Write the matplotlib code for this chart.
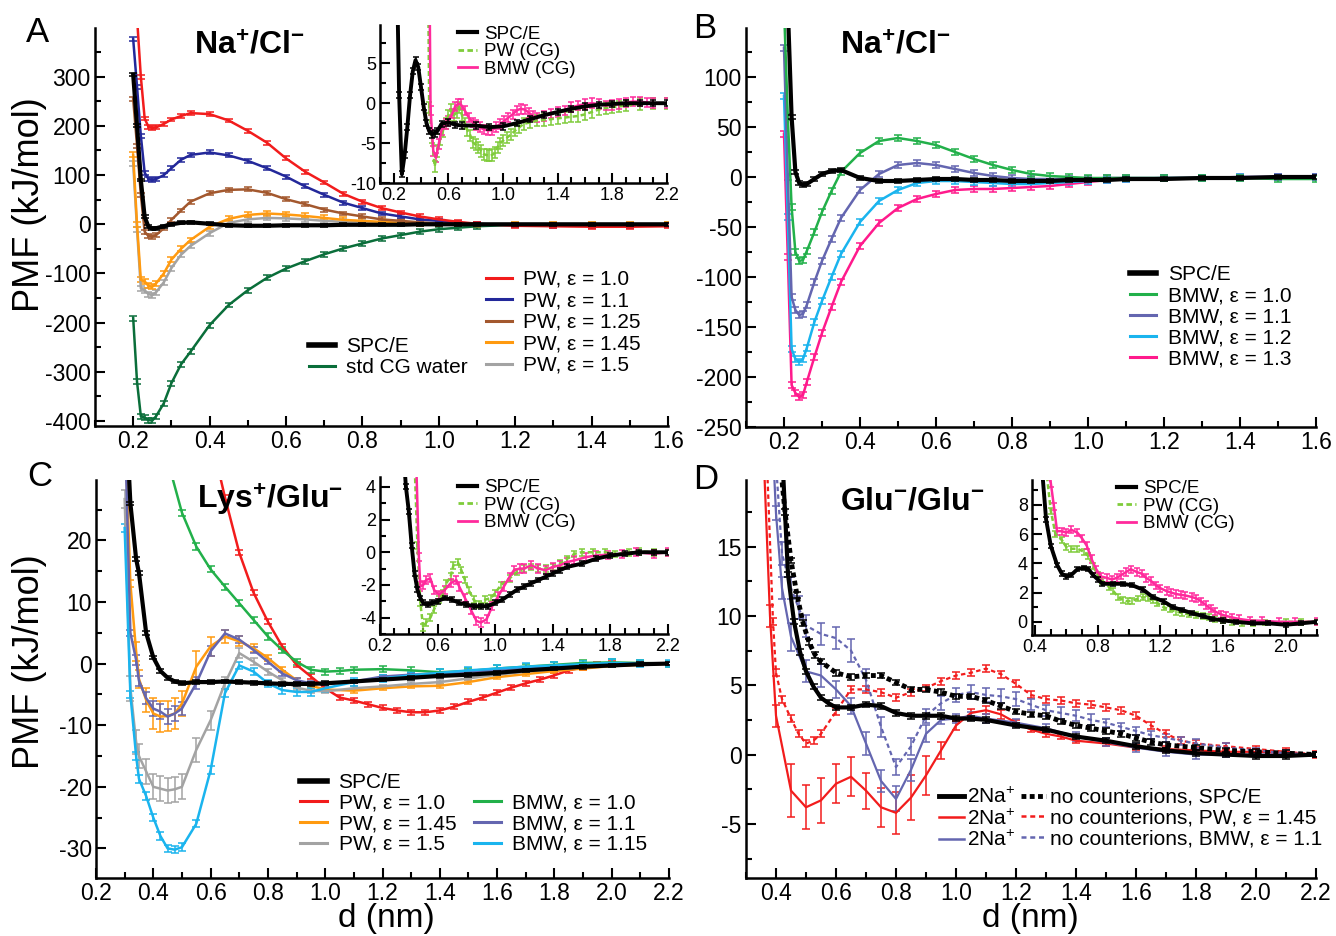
"""
PMF curves: Na+/Cl-, Lys+/Glu-, Glu-/Glu- with SPC/E, PW and BMW water
"""

import matplotlib
matplotlib.use('Agg')
import matplotlib.pyplot as plt
import numpy as np
from matplotlib.lines import Line2D
from matplotlib.ticker import MultipleLocator, FormatStrFormatter

plt.rcParams['font.family'] = ['Liberation Sans', 'DejaVu Sans']
plt.rcParams['mathtext.fontset'] = 'custom'
plt.rcParams['mathtext.rm'] = 'Liberation Sans'
plt.rcParams['mathtext.it'] = 'Liberation Sans:italic'
plt.rcParams['mathtext.bf'] = 'Liberation Sans:bold'
plt.rcParams['axes.unicode_minus'] = False

# ---------------- colours ----------------
C_BLACK = 'black'
C_RED = '#f21c1c'
C_BLUE = '#23289a'
C_BROWN = '#a3582e'
C_ORANGE = '#ff9a10'
C_GRAY = '#a3a3a3'
C_DKGREEN = '#0a6e3a'
C_GREEN = '#22b04a'
C_SLATE = '#6466b0'
C_CYAN = '#1ab4ee'
C_MAGENTA = '#ff1a8c'
C_LGREEN = '#7fcc3a'
C_PINK = '#ff2a9c'

# ---------------- panel A: Na+/Cl-, PW ----------------
xA = [0.20, 0.21, 0.22, 0.23, 0.24, 0.25, 0.26, 0.28, 0.30, 0.325, 0.35, 0.40, 0.45, 0.50,
      0.55, 0.60, 0.65, 0.70, 0.75, 0.80, 0.85, 0.90, 0.95, 1.00, 1.05, 1.10, 1.20, 1.30,
      1.40, 1.50, 1.60]
a_pw10 = [np.nan, 420, 300, 215, 198, 196, 197, 204, 213, 220, 226, 224, 211, 190, 166, 134,
          107, 85, 62, 46, 33, 24, 16, 10, 5, 1, -3, -4, -5, -5, -4]
a_pw11 = [376, 280, 180, 105, 92, 90, 92, 100, 114, 131, 141, 146, 140, 129, 114, 97, 77, 60,
          44, 33, 22, 16, 10, 7, 3, 1, -2, -3, -3, -3, -2]
a_pw125 = [254, 160, 60, -15, -24, -25, -22, -8, 9, 28, 46, 63, 70, 71, 64, 51, 41, 30, 22,
           16, 10, 7, 4, 2, 1, 0, -1, -2, -2, -2, -2]
a_pw145 = [141, 0, -113, -116, -125, -127, -120, -100, -72, -50, -32, -5, 11, 19, 22, 20, 17,
           13, 9, 7, 5, 3, 2, 1, 0, 0, -1, -1, -1, -1, -1]
a_pw15 = [124, -10, -130, -134, -142, -144, -138, -118, -89, -62, -44, -18, 3, 10, 13, 12, 10,
          7, 5, 4, 3, 2, 1, 1, 0, 0, -1, -1, -1, -1, -1]
a_std = [-191, -320, -390, -393, -398, -399, -390, -364, -323, -285, -259, -205, -164, -134,
         -109, -90, -75, -61, -49, -39, -29, -22, -15, -10, -7, -4, -1, 0, 0, 0, 0]
a_spce = [304, 200, 90, 15, -5, -9, -8, -4, 0, 3, 4, 1, -2, -3, -3, -2, -2, -2, -1, -1, -1,
          -1, 0, 0, 0, 0, 0, 0, 0, 0, 0]
errA = {'pw10': 4, 'pw11': 4, 'pw125': 4, 'pw145': 5, 'pw15': 5, 'std': 5, 'spce': 3}

# inset A
iA_x_spce = [0.22, 0.24, 0.26, 0.28, 0.30, 0.32, 0.34, 0.36, 0.38, 0.40, 0.42, 0.44, 0.46,
             0.48, 0.50, 0.52, 0.55, 0.60, 0.65, 0.70, 0.80, 0.90, 1.00, 1.10, 1.20, 1.30,
             1.40, 1.50, 1.60, 1.70, 1.80, 1.90, 2.00, 2.10, 2.20]
iA_spce = [20, 1, -8.9, -6.5, -3.0, 1.0, 4.0, 5.4, 4.5, 2.0, -0.5, -2.5, -3.5, -3.9, -3.8,
           -3.5, -2.6, -2.4, -2.7, -2.8, -2.8, -3.0, -2.9, -2.5, -2.0, -1.5, -1.1, -0.7,
           -0.4, -0.2, -0.1, 0.0, 0.0, 0.0, 0.0]
iA_x_pw = [0.45, 0.46, 0.48, 0.50, 0.52, 0.54, 0.56, 0.58, 0.60, 0.62, 0.64, 0.66, 0.68, 0.70,
           0.72, 0.74, 0.76, 0.78, 0.80, 0.82, 0.84, 0.86, 0.88, 0.90, 0.92, 0.94, 0.96, 0.98,
           1.00, 1.03, 1.06, 1.09, 1.12, 1.15, 1.20, 1.25, 1.30, 1.35, 1.40, 1.45, 1.50,
           1.55, 1.60, 1.65, 1.70, 1.75, 1.80, 1.85, 1.90, 2.00, 2.10, 2.20]
iA_pw = [20, -0.5, -4.3, -7.9, -6.0, -4.5, -3.5, -2.5, -1.5, -0.8, -1.5, -1.2, -0.5, -1.5,
         -2.5, -3.4, -4.0, -4.9, -5.2, -5.5, -6.0, -6.4, -6.5, -6.6, -6.5, -6.2, -5.5, -5.0,
         -4.7, -4.3, -3.9, -3.4, -3.0, -2.6, -2.4, -2.2, -2.1, -2.0, -1.9, -1.8, -1.7, -1.6,
         -1.4, -1.1, -0.8, -0.6, -0.5, -0.4, -0.3, -0.1, 0.0, 0.0]
iA_x_bmw = [0.46, 0.47, 0.49, 0.51, 0.53, 0.55, 0.58, 0.60, 0.63, 0.65, 0.67, 0.69, 0.72,
            0.75, 0.78, 0.80, 0.83, 0.86, 0.89, 0.92, 0.95, 0.98, 1.01, 1.04, 1.07, 1.10,
            1.13, 1.16, 1.19, 1.22, 1.25, 1.30, 1.35, 1.40, 1.45, 1.50, 1.55, 1.60, 1.65,
            1.70, 1.75, 1.80, 1.85, 1.90, 1.95, 2.00, 2.05, 2.10, 2.20]
iA_bmw = [20, -0.9, -6.0, -6.8, -5.1, -3.4, -2.6, -2.2, -1.3, -0.4, -0.1, -0.1, -0.9, -1.8,
          -2.4, -2.7, -3.0, -3.3, -3.4, -3.4, -3.0, -2.6, -2.2, -1.8, -1.4, -0.9, -0.7, -0.8,
          -1.2, -1.6, -1.8, -1.6, -1.3, -1.1, -0.9, -0.5, -0.3, -0.1, 0.0, -0.1, -0.3, -0.2,
          -0.1, 0.1, 0.2, 0.2, 0.1, 0.0, 0.0]

# ---------------- panel B: Na+/Cl-, BMW ----------------
xB = xA
b_spce = [np.nan, 170, 60, 5, -6, -8, -7, -2, 3, 6, 7, -1, -4, -4, -3, -2, -2, -3, -3, -4,
          -4, -4, -3, -3, -3, -2, -2, -1, -1, 0, 0]
b_bmw10 = [170, 60, -30, -75, -84, -83, -74, -55, -35, -14, 5, 24, 36, 39, 36, 32, 25, 18,
           12, 7, 3, 1, 0, -1, -1, -1, -1, -1, -1, -2, -2]
b_bmw11 = [129, 0, -120, -133, -138, -137, -128, -105, -84, -62, -41, -13, 3, 12, 14, 12, 8,
           4, 1, -1, -2, -2, -2, -2, -1, -1, -1, -1, -1, 0, 0]
b_bmw12 = [81, -40, -172, -182, -185, -182, -171, -145, -124, -100, -77, -45, -24, -13, -6,
           -4, -4, -5, -6, -7, -7, -6, -5, -4, -3, -2, -1, -1, 0, 0, 0]
b_bmw13 = [43, -80, -208, -216, -220, -218, -205, -180, -156, -130, -105, -69, -46, -31, -22,
           -17, -13, -12, -12, -11, -10, -9, -7, -5, -3, -2, -1, -1, 0, 0, 0]
errB = 3

# ---------------- panel C: Lys+/Glu- ----------------
xC = [0.30, 0.32, 0.34, 0.35, 0.375, 0.40, 0.425, 0.45, 0.475, 0.50, 0.55, 0.60, 0.65, 0.70,
      0.75, 0.80, 0.85, 0.90, 0.95, 1.00, 1.10, 1.20, 1.30, 1.40, 1.50, 1.60, 1.70, 1.80,
      1.90, 2.00, 2.10, 2.20]
c_spce = [45, 26, 17, 14.7, 5, 1.0, -1.2, -2.3, -2.9, -3.2, -3.0, -3.0, -2.9, -3.0, -3.1,
          -3.2, -3.3, -3.3, -3.3, -3.2, -2.9, -2.6, -2.3, -2.0, -1.8, -1.5, -1.1, -0.8, -0.5,
          -0.3, -0.1, 0.0]
c_pw145 = [40, 13, 2, -2.5, -5.9, -8.1, -8.6, -8.5, -8.1, -6.5, -0.5, 2.8, 4.4, 3.6, 2.5,
           0.9, -1.0, -2.7, -3.6, -4.2, -4.4, -4.0, -3.7, -3.6, -3.0, -2.2, -1.7, -1.2, -0.8,
           -0.4, -0.2, 0.0]
e_pw145 = [0.3, 0.5, 1.5, 1.5, 2.0, 2.5, 2.5, 2.5, 2.5, 2.0, 2.5, 1.5, 1.0, 0.8, 0.6, 0.5,
           0.4, 0.4, 0.3, 0.3, 0.3, 0.3, 0.3, 0.3, 0.3, 0.3, 0.3, 0.3, 0.3, 0.2, 0.2, 0.2]
c_pw15 = [26.7, -4, -12.7, -15, -17.5, -20, -20.3, -20.6, -20.4, -20, -14, -9.2, -3.2, 1.7,
          0.3, -1.3, -2.7, -3.9, -4.4, -4.5, -4.0, -3.7, -3.3, -3.0, -2.4, -1.8, -1.3, -0.9,
          -0.6, -0.3, -0.1, 0.0]
e_pw15 = [1.5, 2.0, 2.0, 2.0, 2.0, 2.0, 2.0, 2.0, 2.0, 2.0, 2.0, 1.5, 1.0, 0.8, 0.6, 0.5,
          0.4, 0.4, 0.3, 0.3, 0.3, 0.3, 0.3, 0.3, 0.3, 0.3, 0.3, 0.3, 0.2, 0.2, 0.2, 0.2]
c_bmw11 = [40, 5, 0.6, -2.8, -5.6, -7.3, -7.8, -8.6, -8.1, -7.3, -3.2, 2.0, 4.9, 3.9, 2.2,
           0.3, -1.6, -2.7, -3.2, -3.3, -2.9, -2.1, -1.8, -1.6, -1.4, -1.1, -0.8, -0.5, -0.3,
           -0.1, 0.0, 0.0]
e_bmw11 = [0.3, 0.5, 0.8, 0.8, 1.0, 1.2, 1.2, 1.2, 1.2, 1.0, 1.0, 0.8, 0.6, 0.5, 0.5, 0.4,
           0.4, 0.3, 0.3, 0.3, 0.3, 0.3, 0.3, 0.3, 0.3, 0.3, 0.3, 0.3, 0.2, 0.2, 0.2, 0.2]
c_bmw115 = [22, -5, -15, -18.7, -21.5, -25, -28, -30, -30.2, -29.8, -26, -17.3, -4.8, -0.3,
            -1.3, -3.2, -4.3, -4.6, -4.6, -4.0, -3.0, -2.4, -1.9, -1.5, -1.1, -0.8, -0.5,
            -0.3, -0.1, 0.1, 0.0, 0.0]
xC_pw10 = [0.62, 0.65, 0.70, 0.75, 0.80, 0.85, 0.90, 0.95, 1.00, 1.05, 1.10, 1.15, 1.20, 1.25,
           1.30, 1.35, 1.40, 1.45, 1.50, 1.55, 1.60, 1.65, 1.70, 1.75, 1.80, 1.85, 1.90,
           1.95, 2.00, 2.10, 2.20]
c_pw10 = [33, 27, 18, 11.5, 6.8, 2.8, -0.2, -2.1, -4.0, -5.5, -6.0, -6.6, -7.2, -7.6, -7.9,
          -7.9, -7.6, -7.0, -6.2, -5.5, -4.7, -3.9, -3.2, -2.6, -1.9, -1.1, -0.6, -0.2, 0.0,
          0.0, 0.0]
xC_bmw10 = [0.45, 0.50, 0.55, 0.60, 0.65, 0.70, 0.75, 0.80, 0.85, 0.90, 0.95, 1.00, 1.05,
            1.10, 1.20, 1.30, 1.40, 1.50, 1.60, 1.70, 1.80, 1.90, 2.00, 2.10, 2.20]
c_bmw10 = [33, 24.5, 19, 15.3, 12.5, 9.8, 7.1, 4.4, 2.2, 0.3, -1.0, -1.3, -1.2, -1.0, -0.9,
           -1.1, -1.4, -1.2, -0.8, -0.5, -0.2, 0.1, 0.2, 0.1, 0.0]

# inset C
iC_x_spce = [0.36, 0.38, 0.40, 0.42, 0.44, 0.46, 0.48, 0.50, 0.53, 0.56, 0.60, 0.65, 0.70,
             0.75, 0.80, 0.85, 0.90, 0.95, 1.00, 1.05, 1.10, 1.15, 1.20, 1.25, 1.30, 1.35,
             1.40, 1.45, 1.50, 1.60, 1.70, 1.80, 1.90, 2.00, 2.10, 2.20]
iC_spce = [6.5, 4.0, 2.5, 0.4, -1.3, -2.3, -2.8, -3.1, -3.2, -3.1, -3.0, -2.8, -2.9, -3.1,
           -3.2, -3.3, -3.3, -3.3, -3.1, -2.9, -2.6, -2.3, -2.1, -1.9, -1.7, -1.5, -1.3,
           -1.1, -0.9, -0.7, -0.4, -0.2, -0.1, 0.0, 0.0, 0.0]
iC_x_pw = [0.44, 0.46, 0.48, 0.50, 0.52, 0.55, 0.575, 0.61, 0.64, 0.66, 0.69, 0.71, 0.74,
           0.765, 0.79, 0.815, 0.85, 0.89, 0.93, 0.97, 1.00, 1.04, 1.10, 1.15, 1.20, 1.25,
           1.30, 1.35, 1.40, 1.45, 1.50, 1.55, 1.60, 1.68, 1.76, 1.83, 1.93, 2.00, 2.10, 2.20]
iC_pw = [5.5, 0.4, -3.1, -4.6, -4.3, -4.0, -3.5, -2.9, -2.5, -1.9, -1.5, -0.8, -0.6, -1.1,
         -1.7, -2.3, -2.9, -3.2, -2.9, -2.8, -2.5, -2.0, -1.6, -1.2, -1.0, -0.9, -1.0, -1.0,
         -0.9, -0.7, -0.4, -0.1, 0.0, 0.0, 0.0, -0.1, 0.0, 0.05, 0.0, 0.0]
iC_x_bmw = [0.45, 0.47, 0.48, 0.50, 0.52, 0.55, 0.575, 0.61, 0.65, 0.69, 0.73, 0.75, 0.79,
            0.83, 0.87, 0.90, 0.94, 0.98, 1.02, 1.06, 1.10, 1.13, 1.17, 1.20, 1.25, 1.30,
            1.35, 1.40, 1.45, 1.50, 1.55, 1.63, 1.70, 1.78, 1.88, 1.98, 2.10, 2.20]
iC_bmw = [6.0, -0.3, -2.1, -2.0, -1.7, -1.6, -2.3, -2.6, -2.3, -1.9, -1.7, -2.1, -2.8, -3.5,
          -4.2, -4.3, -4.1, -3.3, -2.7, -2.1, -1.5, -1.1, -1.0, -1.0, -0.8, -1.0, -1.1, -0.9,
          -0.8, -0.6, -0.5, -0.3, -0.2, -0.15, -0.1, 0.0, -0.1, 0.0]

# ---------------- panel D: Glu-/Glu- ----------------
xD_spce = [0.42, 0.44, 0.46, 0.48, 0.50, 0.525, 0.55, 0.575, 0.60, 0.65, 0.70, 0.75, 0.80,
           0.85, 0.90, 0.95, 1.00, 1.05, 1.10, 1.20, 1.30, 1.40, 1.50, 1.60, 1.70, 1.80,
           1.90, 2.00, 2.10, 2.20]
d_spce = [22, 13, 9.6, 7.4, 6.0, 4.9, 4.1, 3.7, 3.4, 3.4, 3.6, 3.5, 3.0, 2.8, 2.8, 2.8, 2.6,
          2.6, 2.5, 2.1, 1.8, 1.3, 1.0, 0.6, 0.3, 0.1, 0.0, -0.1, -0.1, 0.0]
xD_spce_nc = [0.41, 0.43, 0.45, 0.47, 0.49, 0.51, 0.53, 0.55, 0.60, 0.65, 0.70, 0.75, 0.80,
              0.85, 0.90, 0.95, 1.00, 1.05, 1.10, 1.15, 1.20, 1.25, 1.30, 1.35, 1.40, 1.45,
              1.50, 1.55, 1.60, 1.65, 1.70, 1.80, 1.90, 2.00, 2.10, 2.20]
d_spce_nc = [22, 17.5, 14, 11.5, 9.5, 8.1, 7.2, 6.7, 5.9, 5.6, 5.7, 5.7, 5.2, 4.7, 4.7, 4.5,
             4.2, 4.2, 3.9, 3.5, 3.1, 2.9, 2.8, 2.4, 2.1, 1.9, 1.7, 1.5, 1.2, 0.9, 0.7, 0.5,
             0.3, 0.2, 0.1, 0.0]
xD_pw = [0.36, 0.38, 0.40, 0.45, 0.50, 0.55, 0.60, 0.65, 0.70, 0.75, 0.80, 0.85, 0.90, 0.95,
         1.00, 1.05, 1.10, 1.15, 1.20, 1.25, 1.30, 1.35, 1.40, 1.50, 1.60, 1.70, 1.80, 1.90,
         2.00, 2.10, 2.20]
d_pw = [21, 10, 2.8, -2.6, -3.8, -3.3, -2.1, -1.6, -2.6, -3.8, -4.2, -3.1, -1.5, 0.3, 2.1,
        3.0, 3.2, 2.9, 2.3, 1.8, 1.5, 1.3, 1.0, 0.8, 0.5, 0.4, 0.3, 0.2, 0.2, 0.1, 0.0]
e_d_pw = [0.3, 0.8, 0.8, 1.9, 1.6, 1.6, 1.4, 1.4, 1.3, 1.4, 1.5, 1.6, 1.4, 0.6, 0.3, 0.3,
          0.3, 0.3, 0.2, 0.2, 0.2, 0.2, 0.2, 0.2, 0.2, 0.2, 0.2, 0.2, 0.2, 0.2, 0.2]
xD_pw_nc = [0.37, 0.39, 0.40, 0.42, 0.45, 0.475, 0.50, 0.525, 0.55, 0.60, 0.65, 0.70, 0.75,
            0.80, 0.85, 0.90, 0.95, 1.00, 1.05, 1.10, 1.15, 1.20, 1.25, 1.30, 1.35, 1.40,
            1.45, 1.50, 1.55, 1.60, 1.65, 1.70, 1.75, 1.80, 1.90, 2.00, 2.10, 2.20]
d_pw_nc = [21, 9.6, 5.9, 4.0, 2.6, 1.5, 0.8, 1.0, 1.5, 3.1, 4.7, 4.7, 4.5, 4.1, 4.5, 4.8,
           5.3, 5.7, 5.9, 6.2, 5.8, 5.1, 4.3, 4.0, 3.9, 3.7, 3.6, 3.4, 3.2, 2.8, 2.1, 1.5,
           1.0, 0.8, 0.6, 0.4, 0.2, 0.0]
xD_bmw = [0.39, 0.40, 0.42, 0.45, 0.50, 0.55, 0.60, 0.65, 0.70, 0.75, 0.80, 0.85, 0.90, 0.95,
          1.00, 1.05, 1.10, 1.20, 1.30, 1.40, 1.50, 1.60, 1.70, 1.80, 1.90, 2.00, 2.10, 2.20]
d_bmw = [22, 17.4, 12.0, 8.5, 6.0, 5.7, 4.7, 3.5, 0.8, -1.9, -3.2, -1.1, 1.5, 2.5, 2.6, 2.8,
         2.6, 2.3, 1.9, 1.3, 0.9, 0.5, 0.2, 0.0, 0.0, 0.0, 0.0, 0.0]
e_d_bmw = [0.3, 0.5, 0.8, 1.0, 0.8, 0.8, 0.6, 0.6, 0.8, 0.8, 0.9, 0.8, 0.6, 0.3, 0.3, 0.3,
           0.3, 0.3, 0.3, 0.3, 0.3, 0.3, 0.3, 0.3, 0.2, 0.2, 0.2, 0.2]
xD_bmw_nc = [0.40, 0.42, 0.45, 0.475, 0.50, 0.55, 0.60, 0.65, 0.70, 0.75, 0.80, 0.85, 0.90,
             0.95, 1.00, 1.05, 1.10, 1.15, 1.20, 1.25, 1.30, 1.35, 1.40, 1.45, 1.50, 1.55,
             1.60, 1.65, 1.70, 1.75, 1.80, 1.90, 2.00, 2.10, 2.20]
d_bmw_nc = [21, 14.5, 12.0, 10.6, 9.3, 8.7, 8.4, 7.5, 5.4, 2.0, -0.9, 0.6, 2.8, 3.7, 4.3,
            4.5, 4.3, 4.2, 4.0, 3.6, 3.2, 3.0, 2.8, 2.5, 2.3, 2.0, 1.7, 1.4, 1.2, 1.0, 0.8,
            0.5, 0.3, 0.1, 0.0]
e_d_bmw_nc = [0.5, 0.8, 0.8, 0.8, 0.8, 0.8, 0.8, 0.8, 0.8, 0.7, 0.6, 0.6, 0.5, 0.5, 0.5,
              0.5, 0.5, 0.5, 0.5, 0.4, 0.4, 0.4, 0.4, 0.4, 0.3, 0.3, 0.3, 0.3, 0.3, 0.3, 0.3,
              0.3, 0.2, 0.2, 0.2]

# inset D
iD_x_spce = [0.44, 0.47, 0.50, 0.54, 0.57, 0.60, 0.63, 0.67, 0.71, 0.74, 0.77, 0.80, 0.83,
             0.90, 0.96, 1.02, 1.09, 1.15, 1.22, 1.28, 1.34, 1.40, 1.47, 1.53, 1.60, 1.68,
             1.79, 1.89, 2.00, 2.10, 2.20]
iD_spce = [11.0, 7.0, 5.2, 3.9, 3.3, 3.1, 3.2, 3.6, 3.7, 3.6, 3.2, 2.9, 2.6, 2.6, 2.6, 2.5,
           2.2, 1.7, 1.4, 1.0, 0.8, 0.6, 0.4, 0.2, 0.1, 0.0, -0.1, -0.1, -0.2, -0.1, 0.0]
iD_x_pw = [0.47, 0.50, 0.53, 0.57, 0.60, 0.63, 0.67, 0.71, 0.74, 0.77, 0.80, 0.83, 0.87, 0.90,
           0.93, 0.96, 0.99, 1.02, 1.06, 1.09, 1.12, 1.15, 1.18, 1.22, 1.26, 1.30, 1.34,
           1.38, 1.43, 1.47, 1.51, 1.55, 1.60, 1.66, 1.72, 1.79, 1.87, 2.00, 2.10, 2.20]
iD_pw = [10.5, 7.6, 6.0, 5.6, 5.1, 5.0, 5.0, 4.8, 4.5, 3.8, 3.2, 2.8, 2.4, 2.1, 1.7, 1.5, 1.4,
         1.45, 1.6, 1.7, 1.6, 1.5, 1.3, 1.0, 0.85, 0.7, 0.6, 0.5, 0.45, 0.4, 0.35, 0.2, 0.1,
         0.0, -0.1, -0.1, -0.05, 0.0, 0.0, 0.0]
iD_x_bmw = [0.47, 0.50, 0.52, 0.54, 0.57, 0.60, 0.63, 0.67, 0.70, 0.73, 0.76, 0.79, 0.82,
            0.86, 0.89, 0.92, 0.95, 0.98, 1.01, 1.05, 1.08, 1.11, 1.14, 1.17, 1.20, 1.24,
            1.27, 1.30, 1.33, 1.36, 1.40, 1.43, 1.46, 1.49, 1.52, 1.55, 1.59, 1.62, 1.66,
            1.70, 1.77, 1.85, 1.96, 2.06, 2.20]
iD_bmw = [10.5, 9.5, 7.9, 6.2, 6.2, 6.1, 6.3, 6.1, 5.7, 5.2, 4.3, 3.6, 3.1, 3.0, 2.9, 3.0,
          3.2, 3.4, 3.6, 3.4, 3.3, 3.0, 2.8, 2.5, 2.3, 2.1, 2.0, 1.9, 1.85, 1.8, 1.7, 1.6,
          1.4, 1.15, 0.9, 0.7, 0.5, 0.4, 0.3, 0.2, 0.1, 0.07, 0.0, 0.0, 0.0]

W, H = 1336, 936
LEG = 15
TICK = 16.5
ITICK = 13


def box(left, top, right, bottom):
    """pixel box -> figure fraction rect"""
    return [left / W, 1 - bottom / H, (right - left) / W, (bottom - top) / H]


def curve(ax, x, y, err, color, lw=1.8, dashes=None, cap=3.0, z=2):
    x = np.asarray(x, float)
    y = np.asarray(y, float)
    ax.errorbar(x, y, yerr=err, fmt='none', ecolor=color, elinewidth=1.1,
                capsize=cap, capthick=1.1, zorder=z)
    line, = ax.plot(x, y, color=color, lw=lw, zorder=z + 0.1)
    if dashes is not None:
        line.set_dashes(dashes)


def style(ax, xlim, ylim, xmaj, xmin, ymaj, ymin, size, xoff=0.0):
    ax.set_xlim(*xlim)
    ax.set_ylim(*ylim)
    for s in ['top', 'right']:
        ax.spines[s].set_visible(False)
    for s in ['left', 'bottom']:
        ax.spines[s].set_linewidth(1.8)
    ax.xaxis.set_major_locator(MultipleLocator(xmaj, offset=xoff))
    ax.xaxis.set_minor_locator(MultipleLocator(xmin))
    ax.yaxis.set_major_locator(MultipleLocator(ymaj))
    ax.yaxis.set_minor_locator(MultipleLocator(ymin))
    ax.xaxis.set_major_formatter(FormatStrFormatter('%.1f'))
    ax.yaxis.set_major_formatter(FormatStrFormatter('%d'))
    ax.tick_params(which='both', direction='in', width=1.5, labelsize=size, pad=3)
    ax.tick_params(which='major', length=7)
    ax.tick_params(which='minor', length=4)
    ax.patch.set_alpha(0)


def h(color, lw=2.2, dashes=None):
    ln = Line2D([], [], color=color, lw=lw)
    if dashes is not None:
        ln.set_dashes(dashes)
    return ln


def inset_legend(ax, x, y):
    hs = [h(C_BLACK, 3), h(C_LGREEN, 2, (2, 1.2)), h(C_PINK, 2)]
    ax.legend(hs, ['SPC/E', 'PW (CG)', 'BMW (CG)'], loc='upper left',
              bbox_to_anchor=(x, y), frameon=False, fontsize=13.5, borderpad=0,
              borderaxespad=0, handlelength=1.0, handletextpad=0.4, labelspacing=0.02)


fig = plt.figure(figsize=(W / 100, H / 100), dpi=100)
fig.patch.set_facecolor('white')

# ===== A =====
axA = fig.add_axes(box(95, 28, 668, 426))
curve(axA, xA, a_std, errA['std'], C_DKGREEN)
curve(axA, xA, a_pw15, errA['pw15'], C_GRAY)
curve(axA, xA, a_pw145, errA['pw145'], C_ORANGE)
curve(axA, xA, a_pw125, errA['pw125'], C_BROWN)
curve(axA, xA, a_pw11, errA['pw11'], C_BLUE)
curve(axA, xA, a_pw10, errA['pw10'], C_RED)
curve(axA, xA, a_spce, errA['spce'], C_BLACK, lw=3, z=3)
style(axA, (0.1, 1.6), (-410, 399), 0.2, 0.1, 100, 50, TICK)
axA.text(0.27, 0.955, r'$\mathbf{Na^{+}/Cl^{-}}$', transform=axA.transAxes,
         fontsize=23, ha='center', va='center')
legA1 = axA.legend([h(C_RED), h(C_BLUE), h(C_BROWN), h(C_ORANGE), h(C_GRAY)],
                   ['PW, ε = 1.0', 'PW, ε = 1.1', 'PW, ε = 1.25', 'PW, ε = 1.45', 'PW, ε = 1.5'],
                   loc='upper left', bbox_to_anchor=(0.682, 0.392), frameon=False,
                   fontsize=LEG, borderpad=0, borderaxespad=0, handlelength=1.25,
                   handletextpad=0.55, labelspacing=0.12)
axA.add_artist(legA1)
axA.legend([h(C_BLACK, 4), h(C_DKGREEN)], ['SPC/E', 'std CG water'], loc='upper left',
           bbox_to_anchor=(0.373, 0.224), frameon=False, fontsize=LEG, borderpad=0,
           borderaxespad=0, handlelength=1.25, handletextpad=0.55, labelspacing=0.12)

iA = fig.add_axes(box(380, 25, 667, 183))
curve(iA, iA_x_pw, iA_pw, 0.7, C_LGREEN, lw=1.8, dashes=(2, 1.2), cap=2.5)
curve(iA, iA_x_bmw, iA_bmw, 0.6, C_PINK, lw=1.8, cap=2.5)
curve(iA, iA_x_spce, iA_spce, 0.4, C_BLACK, lw=2.8, cap=2.0, z=3)
style(iA, (0.1, 2.2), (-10, 9.8), 0.4, 0.1, 5, 2.5, ITICK, xoff=0.2)
inset_legend(iA, 0.272, 0.995)

# ===== B =====
axB = fig.add_axes(box(746, 28, 1316, 427))
curve(axB, xB, b_bmw13, errB, C_MAGENTA)
curve(axB, xB, b_bmw12, errB, C_CYAN)
curve(axB, xB, b_bmw11, errB, C_SLATE)
curve(axB, xB, b_bmw10, errB, C_GREEN)
curve(axB, xB, b_spce, 2, C_BLACK, lw=3, z=3)
style(axB, (0.1, 1.6), (-250, 149), 0.2, 0.1, 50, 25, TICK)
axB.text(0.261, 0.955, r'$\mathbf{Na^{+}/Cl^{-}}$', transform=axB.transAxes,
         fontsize=23, ha='center', va='center')
axB.legend([h(C_BLACK, 4), h(C_GREEN), h(C_SLATE), h(C_CYAN), h(C_MAGENTA)],
           ['SPC/E', 'BMW, ε = 1.0', 'BMW, ε = 1.1', 'BMW, ε = 1.2', 'BMW, ε = 1.3'],
           loc='upper left', bbox_to_anchor=(0.674, 0.406), frameon=False, fontsize=LEG,
           borderpad=0, borderaxespad=0, handlelength=1.25, handletextpad=0.55,
           labelspacing=0.1)

# ===== C =====
axC = fig.add_axes(box(96, 480, 669, 878))
curve(axC, xC_pw10, c_pw10, 0.4, C_RED)
curve(axC, xC_bmw10, c_bmw10, 0.5, C_GREEN)
curve(axC, xC, c_pw145, e_pw145, C_ORANGE)
curve(axC, xC, c_pw15, e_pw15, C_GRAY)
curve(axC, xC, c_bmw11, e_bmw11, C_SLATE)
curve(axC, xC, c_bmw115, 0.6, C_CYAN)
curve(axC, xC, c_spce, 0.3, C_BLACK, lw=3, z=3)
style(axC, (0.2, 2.2), (-34.8, 29.8), 0.2, 0.1, 10, 5, TICK)
axC.text(0.303, 0.95, r'$\mathbf{Lys^{+}/Glu^{-}}$', transform=axC.transAxes,
         fontsize=23, ha='center', va='center')
blank = Line2D([], [], color='none')
axC.legend([h(C_BLACK, 4), h(C_RED), h(C_ORANGE), h(C_GRAY),
            blank, h(C_GREEN), h(C_SLATE), h(C_CYAN)],
           ['SPC/E', 'PW, ε = 1.0', 'PW, ε = 1.45', 'PW, ε = 1.5',
            '', 'BMW, ε = 1.0', 'BMW, ε = 1.1', 'BMW, ε = 1.15'],
           ncol=2, loc='upper left', bbox_to_anchor=(0.356, 0.264), frameon=False,
           fontsize=LEG, borderpad=0, borderaxespad=0, handlelength=1.3,
           handletextpad=0.55, labelspacing=0.08, columnspacing=0.85)

iC = fig.add_axes(box(380, 477, 668, 634))
curve(iC, iC_x_pw, iC_pw, 0.2, C_LGREEN, lw=1.8, dashes=(2, 1.2), cap=2.5)
curve(iC, iC_x_bmw, iC_bmw, 0.25, C_PINK, lw=1.8, cap=2.5)
curve(iC, iC_x_spce, iC_spce, 0.15, C_BLACK, lw=2.8, cap=2.0, z=3)
style(iC, (0.2, 2.2), (-5, 4.6), 0.4, 0.1, 2, 1, ITICK, xoff=0.2)
inset_legend(iC, 0.271, 0.985)

# ===== D =====
axD = fig.add_axes(box(746, 480, 1316, 878))
curve(axD, xD_pw, d_pw, e_d_pw, C_RED, lw=1.6)
curve(axD, xD_pw_nc, d_pw_nc, 0.25, C_RED, lw=1.6, dashes=(2, 1.5))
curve(axD, xD_bmw, d_bmw, e_d_bmw, C_SLATE, lw=1.6)
curve(axD, xD_bmw_nc, d_bmw_nc, e_d_bmw_nc, C_SLATE, lw=1.6, dashes=(2, 1.5))
curve(axD, xD_spce, d_spce, 0.2, C_BLACK, lw=3, z=3)
curve(axD, xD_spce_nc, d_spce_nc, 0.2, C_BLACK, lw=3.5, dashes=(1, 0.7), z=3)
style(axD, (0.3, 2.2), (-8.9, 19.8), 0.2, 0.1, 5, 2.5, TICK)
axD.text(0.291, 0.945, r'$\mathbf{Glu^{-}/Glu^{-}}$', transform=axD.transAxes,
         fontsize=23, ha='center', va='center')
axD.legend([h(C_BLACK, 3.5), h(C_RED, 1.8), h(C_SLATE, 1.8),
            h(C_BLACK, 3.5, (1, 0.7)), h(C_RED, 1.8, (2, 1.5)), h(C_SLATE, 1.8, (2, 1.5))],
           ['2Na$^{+}$', '2Na$^{+}$', '2Na$^{+}$',
            'no counterions, SPC/E', 'no counterions, PW, ε = 1.45',
            'no counterions, BMW, ε = 1.1'],
           ncol=2, loc='upper left', bbox_to_anchor=(0.338, 0.229), frameon=False,
           fontsize=LEG, borderpad=0, borderaxespad=0, handlelength=1.2,
           handletextpad=0.15, labelspacing=0.08, columnspacing=0.3)

iD = fig.add_axes(box(1032, 480, 1317, 635))
curve(iD, iD_x_pw, iD_pw, 0.2, C_LGREEN, lw=1.8, dashes=(2, 1.2), cap=2.5)
curve(iD, iD_x_bmw, iD_bmw, 0.25, C_PINK, lw=1.8, cap=2.5)
curve(iD, iD_x_spce, iD_spce, 0.15, C_BLACK, lw=2.8, cap=2.0, z=3)
style(iD, (0.38, 2.2), (-0.9, 9.7), 0.4, 0.1, 2, 1, ITICK)
inset_legend(iD, 0.298, 1.0)

# ===== labels =====
for lab, x, y in [('A', 38, 33), ('B', 705, 29), ('C', 40, 477), ('D', 706, 480)]:
    fig.text(x / W, 1 - y / H, lab, fontsize=25, ha='center', va='center')
for y in [205, 662]:
    fig.text(30 / W, 1 - y / H, 'PMF (kJ/mol)', fontsize=26, rotation=90,
             ha='center', va='center')
for x in [386, 1030]:
    fig.text(x / W, 1 - 934 / H, 'd (nm)', fontsize=24, ha='center', va='bottom')

fig.savefig('out.png', dpi=100)
